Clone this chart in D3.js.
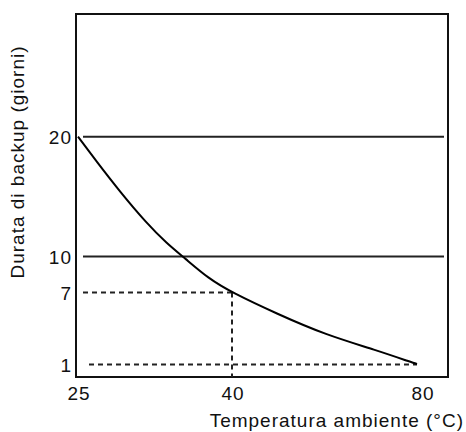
<!DOCTYPE html>
<html><head><meta charset="utf-8">
<script src="https://cdn.jsdelivr.net/npm/d3@7"></script>
<style>body{margin:0;background:#fff}svg{display:block}text{font-family:"Liberation Sans",Arial,sans-serif;fill:#111;letter-spacing:1px}</style>
</head><body><svg id="c" width="466" height="432"></svg>
<script>
const temps = [25, 26.75, 29.09, 31.69, 33.64, 35.42, 37.69, 40, 49.26, 59.79, 70.32, 78.04, 78.95];
const days  = [20, 18.0, 15.41, 12.78, 11.11, 9.86, 8.19, 7.0, 5.27, 3.46, 2.21, 1.15, 1.04];
const xTicks = [25, 40, 80];
const yTicks = [1, 7, 10, 20];
const solidLevels = [20, 10];
const markTemp = 40, markDays = 7, minDays = 1;

const svg = d3.select("#c");
const x = d3.scaleLinear().domain([25, 40, 80]).range([78, 232, 422]);
const y = d3.scaleLinear().domain([0, 30]).range([376.5, 16.8]);
const L = 76, R = 448, T = 14, B = 377;

// frame
svg.append("rect").attr("x", L).attr("y", T).attr("width", R - L).attr("height", B - T)
  .attr("fill", "none").attr("stroke", "#111").attr("stroke-width", 2);

// solid reference lines
svg.selectAll(".sl").data(solidLevels).enter().append("line")
  .attr("x1", 83).attr("x2", 444).attr("y1", d => y(d)).attr("y2", d => y(d))
  .attr("stroke", "#222").attr("stroke-width", 2);

// dashed guide lines
const dash = "5,4";
svg.append("line").attr("x1", 83).attr("x2", x(markTemp)).attr("y1", y(markDays)).attr("y2", y(markDays))
  .attr("stroke", "#222").attr("stroke-width", 2).attr("stroke-dasharray", dash);
svg.append("line").attr("x1", x(markTemp)).attr("x2", x(markTemp)).attr("y1", y(markDays)).attr("y2", B)
  .attr("stroke", "#222").attr("stroke-width", 2).attr("stroke-dasharray", dash);
svg.append("line").attr("x1", 89).attr("x2", x(temps[temps.length - 1])).attr("y1", y(minDays)).attr("y2", y(minDays))
  .attr("stroke", "#222").attr("stroke-width", 2).attr("stroke-dasharray", dash);

// curve
const pts = temps.map((t, i) => [t, days[i]]);
svg.append("path").datum(pts)
  .attr("d", d3.line().x(d => x(d[0])).y(d => y(d[1])).curve(d3.curveBasis))
  .attr("fill", "none").attr("stroke", "#000").attr("stroke-width", 2);

// x tick labels
svg.selectAll(".xt").data(xTicks).enter().append("text")
  .attr("x", d => x(d) + 1).attr("y", 400)
  .attr("text-anchor", "middle").attr("font-size", 19).text(d => d);

// y tick labels
svg.selectAll(".yt").data(yTicks).enter().append("text")
  .attr("x", 72).attr("y", d => y(d) + 7.5)
  .attr("text-anchor", "end").attr("font-size", 19).text(d => d);

// axis titles
svg.append("text").attr("x", 464).attr("y", 427).attr("text-anchor", "end")
  .attr("font-size", 19).text("Temperatura ambiente (°C)");
svg.append("text").attr("transform", "translate(24,162) rotate(-90)").attr("text-anchor", "middle")
  .attr("font-size", 19).text("Durata di backup (giorni)");
</script></body></html>
